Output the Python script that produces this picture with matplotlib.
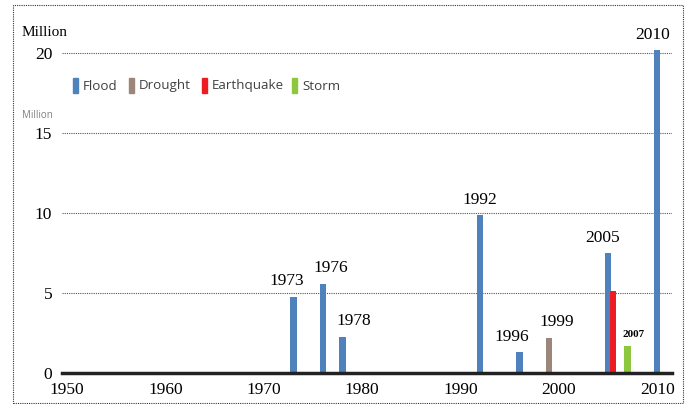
import matplotlib
matplotlib.use("Agg")
import matplotlib.pyplot as plt
from matplotlib.patches import Rectangle

# data (million people affected)
flood_years = [1973, 1976, 1978, 1992, 1996, 2005, 2010]
flood_vals = [4.77, 5.55, 2.23, 9.85, 1.27, 7.47, 20.2]
drought_years = [1999]
drought_vals = [2.18]
quake_years = [2005]
quake_vals = [5.12]
storm_years = [2007]
storm_vals = [1.67]

categories = ["Flood", "Drought", "Earthquake", "Storm"]
colors = ["#4F81BD", "#9C8579", "#ED1C24", "#8DC63F"]

x_ticks = [1950, 1960, 1970, 1980, 1990, 2000, 2010]
y_ticks = [0, 5, 10, 15, 20]

W, H = 688, 404
serif = "Liberation Serif"
sans = "Open Sans"


def px(x, y):
    # pixel position in the figure -> figure fraction
    return x / W, 1 - y / H


fig = plt.figure(figsize=(W / 100, H / 100), dpi=100)
ax = fig.add_axes([62 / W, 1 - 372.7 / H, 610 / W, 343.3 / H])

bw = 0.66
ax.bar(flood_years, flood_vals, width=bw, color=colors[0], zorder=3)
ax.bar(drought_years, drought_vals, width=bw, color=colors[1], zorder=3)
ax.bar([y + 0.5 for y in quake_years], quake_vals, width=bw, color=colors[2], zorder=4)
ax.bar(storm_years, storm_vals, width=bw, color=colors[3], zorder=3)

# year labels over the bars, small sideways nudges in pixels
nudge = {1973: -7, 1976: 8, 1978: 11, 1992: 0, 1996: -8, 1999: 8, 2005: -6, 2010: -5}
label_years = flood_years + drought_years
label_vals = flood_vals + drought_vals
for yr, v in zip(label_years, label_vals):
    ax.annotate(str(yr), (yr, v), xytext=(nudge.get(yr, 0) * 0.72, 5.5),
                textcoords="offset points", ha="center", va="bottom",
                fontsize=12.5, family=serif, annotation_clip=False)
for yr, v in zip(storm_years, storm_vals):
    ax.annotate(str(yr), (yr, v), xytext=(4.5, 5), textcoords="offset points",
                ha="center", va="bottom", fontsize=8, fontweight="bold",
                family=serif, annotation_clip=False)

ax.set_xlim(1949.48, 2011.5)
ax.set_ylim(0, 21.5)

for yv in y_ticks[1:]:
    ax.axhline(yv, color="#555555", lw=0.8, ls=(0, (1, 1)), zorder=1)

for s in ["top", "right", "left"]:
    ax.spines[s].set_visible(False)
ax.spines["bottom"].set_linewidth(2.5)
ax.spines["bottom"].set_color("#222222")
ax.spines["bottom"].set_zorder(5)

ax.set_xticks(x_ticks)
ax.set_xticklabels([str(t) for t in x_ticks], family=serif, fontsize=12.5)
ax.set_yticks(y_ticks)
ax.set_yticklabels([str(t) for t in y_ticks], family=serif, fontsize=12.5)
ax.tick_params(axis="x", length=0, pad=7)
ax.tick_params(axis="y", length=0, pad=7)

# titles
fig.text(*px(22, 33), "Million", family=serif, fontsize=11, va="center", ha="left")
fig.text(*px(22, 115), "Million", family=sans, fontsize=7, color="#808080",
         va="center", ha="left")

# legend drawn by hand
leg_x = [73, 129, 202, 292]
for cat, col, lx in zip(categories, colors, leg_x):
    fx, fy = px(lx, 93)
    fig.patches.append(Rectangle((fx, fy), 4.5 / W, 15 / H, transform=fig.transFigure,
                                 color=col, figure=fig))
    fig.text(*px(lx + 10, 86), cat, family=sans, fontsize=9.6, color="#404040",
             va="center", ha="left")

# dotted frame round the picture
bx, by = px(13, 403)
fig.patches.append(Rectangle((bx, by), 670 / W, 398 / H, transform=fig.transFigure,
                             fill=False, ec="#333333", lw=0.8, ls=(0, (1, 1)), figure=fig))

fig.savefig("out.png", dpi=100)
